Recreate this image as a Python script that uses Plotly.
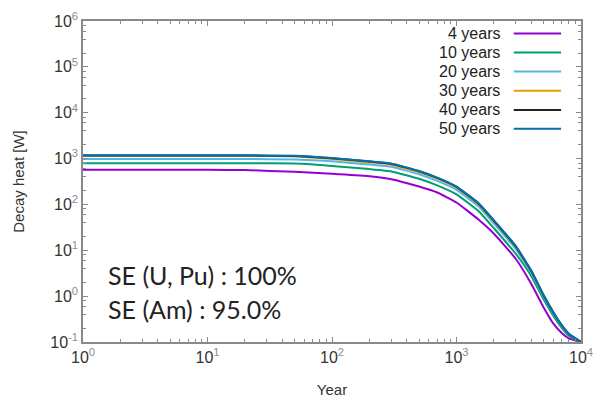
import plotly.graph_objects as go

years = [1, 2, 5, 10, 20, 50, 100, 200, 300, 500, 700, 1000, 1500, 2000, 3000,
         4000, 5000, 6000, 7000, 8000, 10000]

heat_4y = [568, 568, 568, 568, 562, 513, 468, 412, 355, 245, 182, 110, 46.8, 22.9,
           6.46, 1.82, 0.575, 0.251, 0.158, 0.120, 0.100]
heat_10y = [794, 794, 794, 794, 794, 776, 692, 589, 525, 363, 260, 166, 72, 30.2,
            8.3, 2.7, 0.85, 0.37, 0.204, 0.137, 0.100]
heat_20y = [978, 978, 978, 978, 978, 955, 870, 740, 660, 456, 327, 208, 91, 38,
            10.5, 3.16, 0.97, 0.416, 0.223, 0.148, 0.100]
heat_30y = [1150, 1150, 1150, 1150, 1150, 1110, 975, 825, 735, 508, 365, 232, 100,
            42, 11.6, 3.4, 1.03, 0.435, 0.23, 0.149, 0.100]
heat_40y = [1170, 1170, 1170, 1170, 1170, 1140, 1015, 862, 768, 530, 380, 242, 105,
            43.8, 12.0, 3.48, 1.05, 0.44, 0.232, 0.150, 0.100]
heat_50y = [1175, 1175, 1175, 1175, 1175, 1148, 1023, 871, 776, 537, 385, 245, 107,
            44.7, 12.3, 3.55, 1.07, 0.447, 0.234, 0.151, 0.100]

series_labels = ["4 years", "10 years", "20 years", "30 years", "40 years", "50 years"]
series_values = [heat_4y, heat_10y, heat_20y, heat_30y, heat_40y, heat_50y]
series_colors = ["#9400d3", "#009e73", "#56b4e9", "#e69f00", "#222222", "#0072b2"]

x_exps = [0, 1, 2, 3, 4]
y_exps = [-1, 0, 1, 2, 3, 4, 5, 6]

note_lines = ["SE (U, Pu) : 100%", "SE (Am) : 95.0%"]

FONT = "Liberation Sans, Arial, sans-serif"
AXC = "#8a8a8a"

def tick_text(e):
    return "10<span style='color:#8c8c8c'><sup>%d</sup></span>" % e

fig = go.Figure()
for lab, vals, col in zip(series_labels, series_values, series_colors):
    fig.add_trace(go.Scatter(x=years, y=vals, mode="lines", name=lab,
                             line=dict(color=col, width=2, shape="spline", smoothing=0.4),
                             showlegend=False))

x_minor = [m * 10 ** e for e in x_exps[:-1] for m in range(2, 10)]
y_minor = [m * 10 ** e for e in y_exps[:-1] for m in (2, 4, 6, 8)]

fig.update_xaxes(type="log", range=[0, 4],
                 tickmode="array", tickvals=[10 ** e for e in x_exps],
                 ticktext=[tick_text(e) for e in x_exps],
                 ticks="inside", ticklen=5, tickcolor=AXC, tickwidth=1,
                 minor=dict(tickmode="array", tickvals=x_minor, ticks="inside",
                            ticklen=3, tickcolor=AXC, showgrid=False),
                 showline=True, linecolor=AXC, linewidth=1.5, mirror="allticks",
                 showgrid=False, zeroline=False, automargin=False,
                 ticklabeloverflow="allow",
                 tickfont=dict(family=FONT, size=16, color="#333"),
                 title=dict(text="Year", font=dict(family=FONT, size=15, color="#333"),
                            standoff=20))
fig.update_yaxes(type="log", range=[-1, 6],
                 tickmode="array", tickvals=[10 ** e for e in y_exps],
                 ticktext=[tick_text(e) for e in y_exps],
                 ticks="inside", ticklen=5, tickcolor=AXC, tickwidth=1,
                 minor=dict(tickmode="array", tickvals=y_minor, ticks="inside",
                            ticklen=3, tickcolor=AXC, showgrid=False),
                 showline=True, linecolor=AXC, linewidth=1.5, mirror="allticks",
                 showgrid=False, zeroline=False, automargin=False,
                 ticklabeloverflow="allow",
                 tickfont=dict(family=FONT, size=16, color="#333"),
                 title=dict(text="Decay heat [W]", font=dict(family=FONT, size=15, color="#333"),
                            standoff=22))

# gnuplot-style key: label then line sample
row_y = [0.961, 0.902, 0.843, 0.783, 0.723, 0.664]
for lab, col, yy in zip(series_labels, series_colors, row_y):
    fig.add_annotation(x=0.841, y=yy, xref="paper", yref="paper", text=lab,
                       showarrow=False, xanchor="right", yanchor="middle",
                       font=dict(family=FONT, size=16, color="#222"))
    fig.add_shape(type="line", xref="paper", yref="paper", x0=0.865, x1=0.960,
                  y0=yy, y1=yy, line=dict(color=col, width=2))

for txt, yy in zip(note_lines, [0.209, 0.103]):
    fig.add_annotation(x=0.046, y=yy, xref="paper", yref="paper", text=txt,
                       showarrow=False, xanchor="left", yanchor="middle",
                       font=dict(family="Lato, Noto Sans, sans-serif", size=25, color="#222"))

fig.update_layout(width=593, height=401, margin=dict(l=83, r=12, t=21, b=59, autoexpand=False),
                  paper_bgcolor="white", plot_bgcolor="white")
fig.write_html("out.html")
